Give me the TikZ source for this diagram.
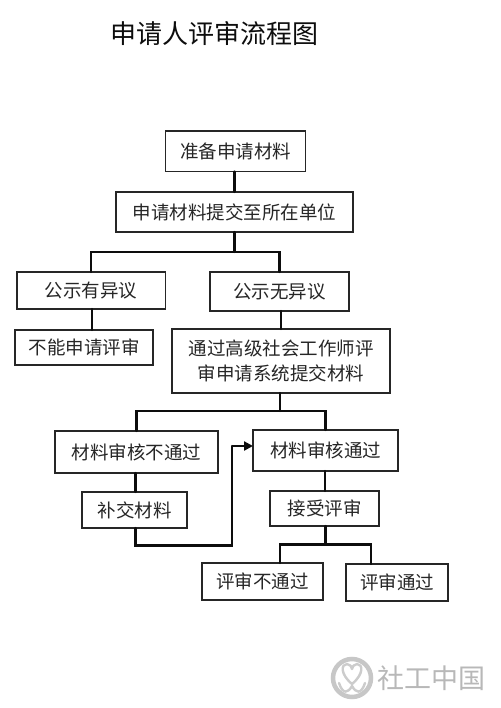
\documentclass[tikz,border=0pt]{standalone}
\usepackage{fontspec}
\setmainfont{Noto Sans CJK SC}
\usetikzlibrary{arrows.meta,calc}
\tikzset{
  flowbox/.style={draw=black!85,line width=1.5pt,inner sep=0pt,outer sep=0pt,font=\fontsize{18.5pt}{25pt}\selectfont,text=black!85,align=center},
  conn/.style={draw=black!95,line width=2.2pt,line cap=round},
  logoline/.style={draw=black!20,line width=2.4pt,line cap=round,line join=round}
}
\begin{document}
\begin{tikzpicture}[x=1pt,y=-1pt]
\path[fill=white] (0,0) rectangle (500,708);
\useasboundingbox (0,0) rectangle (500,708);
\node[font=\fontsize{26pt}{30pt}\selectfont,text=black!95,inner sep=0pt] (title) at (214,34) {申请人评审流程图};
\node[flowbox,minimum width=140pt,minimum height=40.5pt] (prep) at (235.5,151.2) {准备申请材料};
\node[flowbox,minimum width=237pt,minimum height=40pt] (submit) at (234.5,212) {申请材料提交至所在单位};
\node[flowbox,minimum width=148.5pt,minimum height=37pt] (obj) at (91.2,290.5) {公示有异议};
\node[flowbox,minimum width=139pt,minimum height=39pt] (noobj) at (279.5,291.5) {公示无异议};
\node[flowbox,minimum width=138pt,minimum height=35pt] (cannot) at (84,347.5) {不能申请评审};
\node[flowbox,minimum width=218pt,minimum height=64pt] (system) at (281,361) {通过高级社会工作师评\\审申请系统提交材料};
\node[flowbox,minimum width=163pt,minimum height=42pt] (fail) at (136.5,452) {材料审核不通过};
\node[flowbox,minimum width=145pt,minimum height=41pt] (pass) at (325.5,450.5) {材料审核通过};
\node[flowbox,minimum width=105pt,minimum height=36pt] (supp) at (134.5,510) {补交材料};
\node[flowbox,minimum width=109pt,minimum height=35pt] (review) at (324.5,508.5) {接受评审};
\node[flowbox,minimum width=121pt,minimum height=37pt] (rfail) at (262.5,581.5) {评审不通过};
\node[flowbox,minimum width=102pt,minimum height=37pt] (rpass) at (397,582.5) {评审通过};
\coordinate (b1) at (234.5,252);
\coordinate (b2) at (280,411);
\coordinate (b3) at (325.5,544.5);
\coordinate (fb2) at (232,545.5);
\coordinate (fb3) at (232,446);
\draw[conn] (prep.south -| submit.north) -- (submit.north);
\draw[conn] (submit.south) -- (b1);
\draw[conn] ($(obj.north)+(-0.5,0)$) |- (b1) -| (noobj.north);
\draw[conn] ($(obj.south)+(0.8,0)$) -- ++(0,21);
\draw[conn] ($(noobj.south)+(1.5,0)$) -- ++(0,18);
\draw[conn] ($(system.south)+(-1,0)$) -- (b2);
\draw[conn] (fail.north) |- (b2) -| (pass.north);
\draw[conn] ($(fail.south)+(-1,0)$) -- ++(0,19);
\draw[conn] ($(pass.south)+(-0.5,0)$) -- ++(0,20);
\draw[conn] ($(review.south)+(1,0)$) -- (b3);
\draw[conn] ($(rfail.north)+(17.5,0)$) |- (b3) -| ($(rpass.north)+(-26,0)$);
\draw[conn] ($(supp.south)+(1,0)$) |- (fb2) -- (fb3);
\draw[conn,line cap=butt,-{Triangle[length=9pt,width=9pt]}] (fb3) -- (pass.west |- fb3);
% watermark
\draw[draw=black!22,line width=4.5pt] (352,678) circle (19);
\draw[logoline] (352,684) .. controls (340,674) and (341,664) .. (347,664) .. controls (350,664) and (352,667) .. (352,669) .. controls (352,667) and (354,664) .. (357,664) .. controls (363,664) and (364,674) .. (352,684);
\draw[logoline] (339,683) .. controls (343,695) and (348,693) .. (352,686) .. controls (356,693) and (361,695) .. (365,683);
\node[font=\fontsize{27pt}{30pt}\selectfont,text=black!28,inner sep=0pt] (wm) at (431,678) {社工中国};
\end{tikzpicture}
\end{document}
